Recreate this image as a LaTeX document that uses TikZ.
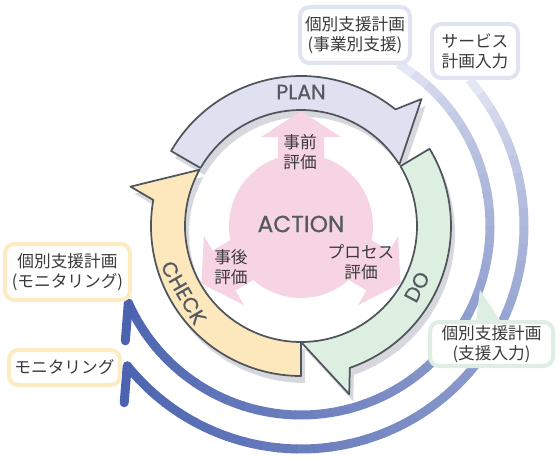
\documentclass[tikz,border=0pt]{standalone}
\usepackage{fontspec}
\newfontfamily\jpfont{Noto Sans CJK JP}
\newfontfamily\lblfont{Poppins}[FakeBold=0.6]
\usetikzlibrary{calc}

\definecolor{bandline}{HTML}{4F555B}
\definecolor{shadowgray}{HTML}{D6D8DE}
\definecolor{planfill}{HTML}{DFE1F1}
\definecolor{dofill}{HTML}{DCEFE1}
\definecolor{checkfill}{HTML}{FDE8BD}
\definecolor{actionpink}{HTML}{F7D4E3}
\definecolor{planedge}{HTML}{E0E3F2}
\definecolor{checkedge}{HTML}{FDEBC3}
\definecolor{doedge}{HTML}{DDEFE2}
\definecolor{arcdark}{HTML}{4C64B0}
\definecolor{arcfade}{HTML}{F0F1F9}
\definecolor{textgray}{HTML}{3A3A3A}
\definecolor{labelgray}{HTML}{555A61}

\begin{document}
\begin{tikzpicture}[x=0.75pt, y=0.75pt,
    band/.style={draw=bandline, line width=1.3pt, line join=round},
    infobox/.style={draw, line width=3pt, rounded corners=7pt, fill=white,
                    inner sep=0pt, align=center, text=textgray,
                    font=\jpfont\fontsize{12.5pt}{15pt}\selectfont},
    evaltext/.style={align=center, text=textgray,
                     font=\jpfont\fontsize{12.5pt}{15pt}\selectfont},
    cyclabel/.style={text=labelgray, inner sep=0pt,
                     font=\lblfont\fontsize{15.5pt}{18pt}\selectfont},
    arcline/.style={line width=6.75pt},
    barb/.style={line width=6.75pt, line cap=round, line join=round},
]
    \useasboundingbox (-301,-231) rectangle (259,226);

    % outer arcs, fading in from the top boxes
    \foreach \i in {1,...,40} {
        \pgfmathsetmacro\a{59-(\i-1)*215/40}
        \pgfmathsetmacro\p{100*((\i-0.5)/40)^0.6}
        \draw[arcline, arcdark!\p!arcfade] (\a:189)
            arc[start angle=\a, end angle=\a-215/40-0.4, radius=189];
    }
    \foreach \i in {1,...,40} {
        \pgfmathsetmacro\a{41-(\i-1)*182/40}
        \pgfmathsetmacro\p{100*((\i-0.5)/40)^0.6}
        \draw[arcline, arcdark!\p!arcfade] (\a:223)
            arc[start angle=\a, end angle=\a-182/40-0.4, radius=223];
    }
    \coordinate (tipin) at (204:189);
    \coordinate (tipout) at (218.8:223);
    \coordinate (barbin) at ($(tipin)+(-3,-38)$);
    \coordinate (barbout) at ($(tipout)+(-3,-37)$);
    \draw[barb, arcdark] (tipin) -- (barbin);
    \draw[barb, arcdark] (tipout) -- (barbout);

    % shadows of the cycle
    \begin{scope}[shift={(4,-7)}]
        \fill[shadowgray] (270:150) arc[start angle=270, end angle=170, radius=150]
            -- (167:175) -- (151:116) arc[start angle=151, end angle=270, radius=116] -- cycle;
        \fill[shadowgray] (150:150) arc[start angle=150, end angle=51, radius=150]
            -- (46.5:175) -- (32:116) arc[start angle=32, end angle=150, radius=116] -- cycle;
        \fill[shadowgray] (31:150) arc[start angle=31, end angle=-71, radius=150]
            -- (-74:175) -- (-90:116) arc[start angle=-90, end angle=31, radius=116] -- cycle;
    \end{scope}

    % PLAN / DO / CHECK
    \filldraw[band, fill=checkfill] (270:150) arc[start angle=270, end angle=170, radius=150]
        -- (167:175) -- (151:116) arc[start angle=151, end angle=270, radius=116] -- cycle;
    \filldraw[band, fill=planfill] (150:150) arc[start angle=150, end angle=51, radius=150]
        -- (46.5:175) -- (32:116) arc[start angle=32, end angle=150, radius=116] -- cycle;
    \filldraw[band, fill=dofill] (31:150) arc[start angle=31, end angle=-71, radius=150]
        -- (-74:175) -- (-90:116) arc[start angle=-90, end angle=31, radius=116] -- cycle;

    \node[cyclabel] (plan) at (90:134) {PLAN};
    \node[cyclabel, rotate=62] (do) at (-27.7:131) {DO};
    \node[cyclabel, rotate=-60] (check) at (209.6:135) {CHECK};

    % ACTION in the middle
    \fill[actionpink] (0,0) circle[radius=72];
    \fill[actionpink, rotate=90] (0,-23) -- (89,-23) -- (89,-40) -- (115,0)
        -- (89,40) -- (89,23) -- (0,23) -- cycle;
    \fill[actionpink, rotate=210] (0,-23) -- (89,-23) -- (89,-40) -- (115,0)
        -- (89,40) -- (89,23) -- (0,23) -- cycle;
    \fill[actionpink, rotate=330] (0,-23) -- (89,-23) -- (89,-40) -- (115,0)
        -- (89,40) -- (89,23) -- (0,23) -- cycle;
    \node[text=labelgray, font=\lblfont\fontsize{17.5pt}{20pt}\selectfont] (action) at (0,2) {ACTION};
    \node[evaltext] (pre) at (-1,74) {事前\\評価};
    \node[evaltext] (post) at (-70,-41) {事後\\評価};
    \node[evaltext] (process) at (60,-36) {プロセス\\評価};

    % boxes
    \node[infobox, draw=planedge, minimum width=82.5pt, minimum height=42pt]
        (jigyo) at (54,191) {個別支援計画\\(事業別支援)};
    \node[infobox, draw=planedge, minimum width=64.5pt, minimum height=40.5pt]
        (service) at (174,175) {サービス\\計画入力};
    \node[infobox, draw=checkedge, minimum width=93.75pt, minimum height=42pt]
        (moni) at (-233.5,-46) {個別支援計画\\(モニタリング)};
    \node[infobox, draw=checkedge, minimum width=83.25pt, minimum height=26.25pt]
        (monitoring) at (-236.5,-141.5) {モニタリング};
    \coordinate (callout) at (-19.7:190);
    \fill[doedge] (callout) -- (175,-97) -- (201,-97) -- cycle;
    \node[infobox, draw=doedge, minimum width=92.25pt, minimum height=33pt]
        (shien) at (190.5,-118) {個別支援計画\\(支援入力)};
\end{tikzpicture}
\end{document}
